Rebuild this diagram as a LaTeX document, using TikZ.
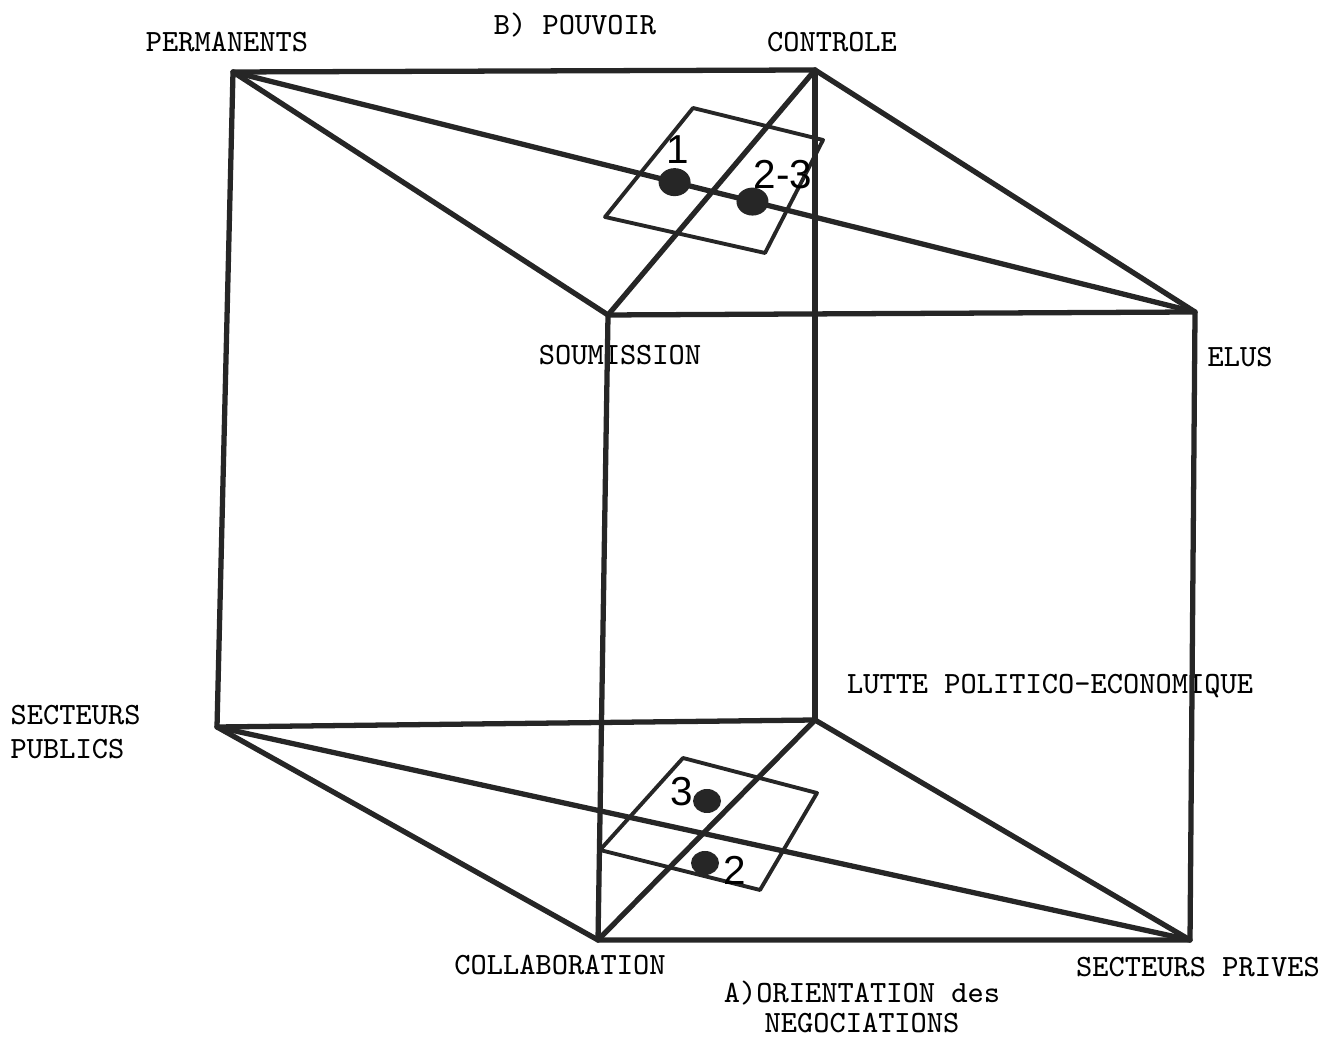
\documentclass[tikz,border=0pt]{standalone}
\usepackage{fontspec}
\newfontfamily\handfont{Liberation Sans}
\usetikzlibrary{positioning, calc}

\tikzset{
    edge/.style={line width=1.5pt, line join=round, line cap=round, draw=black!85},
    patch/.style={line width=1.1pt, line join=round, draw=black!85},
    lbl/.style={font=\ttfamily\fontsize{8.8}{9.8}\selectfont, inner sep=0pt},
    num/.style={font=\handfont\fontsize{11.5}{12}\selectfont, inner sep=0pt},
    spot/.style={fill=black!85, draw=none}
}

\begin{document}
\begin{tikzpicture}
    \useasboundingbox (0, 0) rectangle (13.26, 10.40);

    % Top face
    \coordinate (perm) at (2.33, 9.68);
    \coordinate (ctrl) at (8.15, 9.70);
    \coordinate (elus) at (11.95, 7.28);
    \coordinate (soum) at (6.08, 7.25);

    % Bottom face
    \coordinate (pub) at (2.17, 3.13);
    \coordinate (lutte) at (8.15, 3.20);
    \coordinate (priv) at (11.90, 1.00);
    \coordinate (coll) at (5.98, 1.00);

    % Labels
    \node[lbl] (tPouv) at (5.75, 10.15) {B) POUVOIR};
    \node[lbl] (tPerm) at (2.27, 9.98) {PERMANENTS};
    \node[lbl] (tCtrl) at (8.32, 9.98) {CONTROLE};
    \node[lbl] (tSoum) at (6.20, 6.85) {SOUMISSION};
    \node[lbl] (tElus) at (12.40, 6.83) {ELUS};
    \node[lbl] (tLutte) at (10.50, 3.54) {LUTTE POLITICO-ECONOMIQUE};
    \node[lbl, anchor=west, align=left] (tPub) at (0.10, 3.08) {SECTEURS\\PUBLICS};
    \node[lbl] (tColl) at (5.60, 0.75) {COLLABORATION};
    \node[lbl] (tPriv) at (11.98, 0.73) {SECTEURS PRIVES};
    \node[lbl, font=\ttfamily\fontsize{8.8}{8.6}\selectfont, align=center] (tOrient) at (8.62, 0.33) {A)ORIENTATION des\\NEGOCIATIONS};

    % Top face edges and diagonals
    \draw[edge] (perm) -- (ctrl) -- (elus) -- (soum) -- cycle;
    \draw[edge] (perm) -- (elus);
    \draw[edge] (ctrl) -- (soum);

    % Verticals
    \draw[edge] (perm) -- (pub);
    \draw[edge] (ctrl) -- (lutte);
    \draw[edge] (elus) -- (priv);
    \draw[edge] (soum) -- (coll);

    % Bottom face edges and diagonals
    \draw[edge] (pub) -- (lutte) -- (priv) -- (coll) -- cycle;
    \draw[edge] (pub) -- (priv);
    \draw[edge] (lutte) -- (coll);

    % Top patch
    \draw[patch] (6.93, 9.32) -- (8.23, 9.00) -- (7.65, 7.87) -- (6.05, 8.23) -- cycle;
    \fill[spot] ($(perm)!0.459!(elus)$) ellipse (0.16 and 0.14);
    \fill[spot] ($(perm)!0.540!(elus)$) ellipse (0.16 and 0.14);
    \node[num] (n1) at (6.78, 8.90) {1};
    \node[num] (n23) at (7.83, 8.65) {2-3};

    % Bottom patch
    \draw[patch] (6.83, 2.82) -- (8.17, 2.47) -- (7.60, 1.50) -- (6.00, 1.90) -- cycle;
    \fill[spot] (7.07, 2.39) ellipse (0.14 and 0.12);
    \fill[spot] (7.05, 1.77) ellipse (0.14 and 0.12);
    \node[num] (n3) at (6.82, 2.48) {3};
    \node[num] (n2) at (7.35, 1.70) {2};

\end{tikzpicture}
\end{document}
